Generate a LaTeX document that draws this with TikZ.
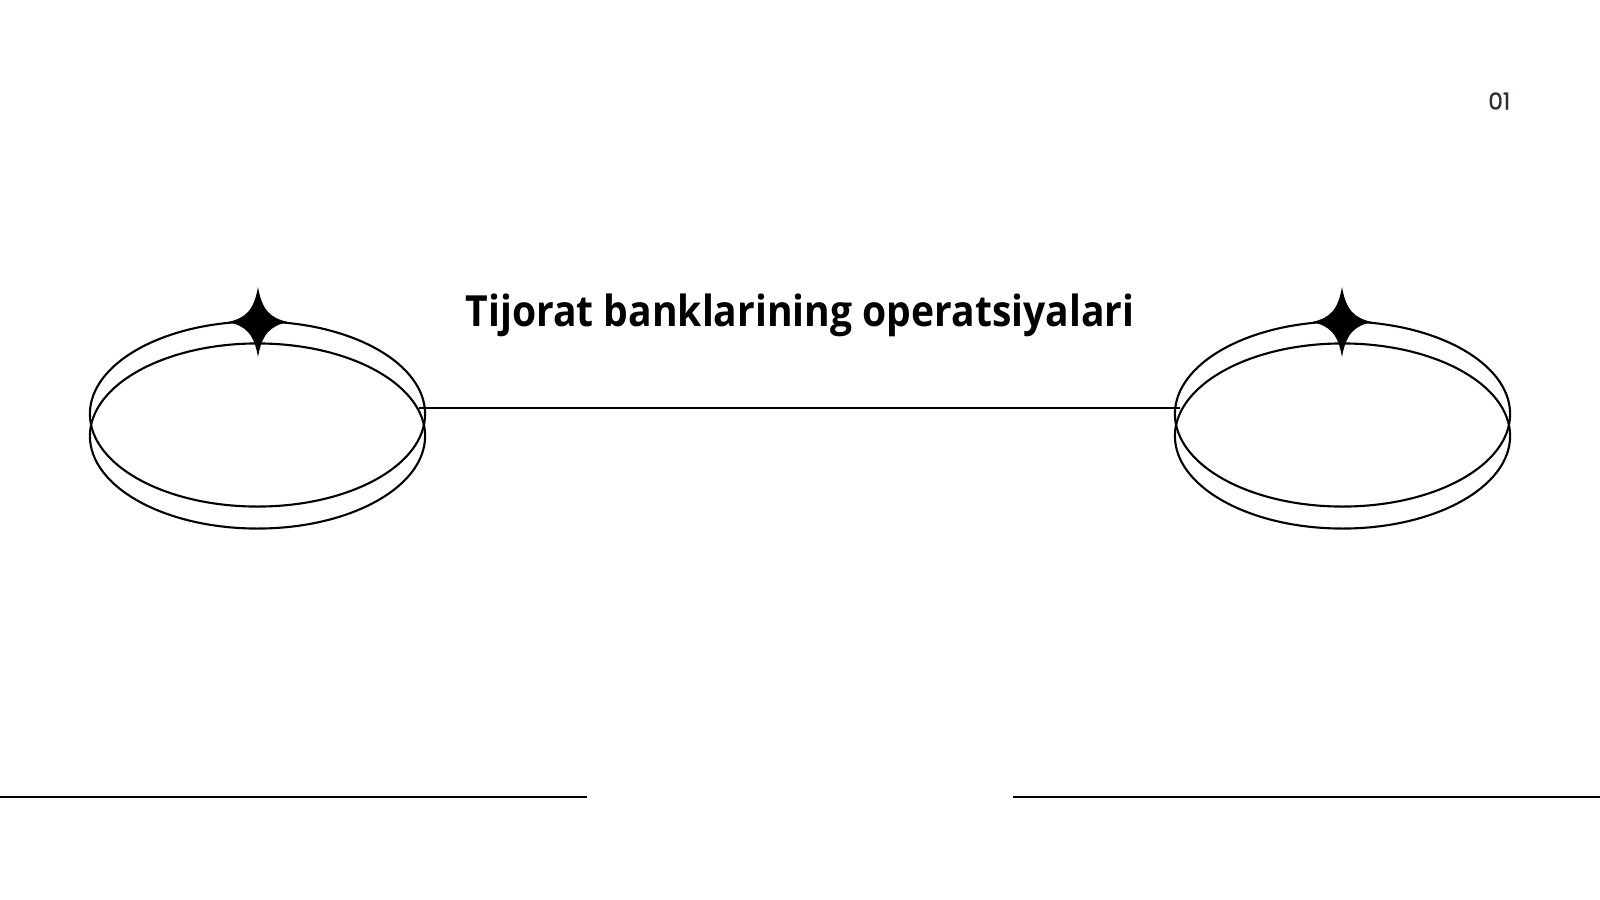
\documentclass[tikz,border=0pt]{standalone}
\usepackage{fontspec}
\setmainfont{Open Sans}
\newfontfamily\titlefont[FakeStretch=0.91]{Open Sans}
\newfontfamily\numfont[FakeBold=0.8]{Poppins}
\usetikzlibrary{shapes.geometric}
\definecolor{numgray}{HTML}{2B3030}
\tikzset{
  ring/.style={ellipse, draw=black, line width=0.6pt, inner sep=0pt,
    minimum width=3.35cm, minimum height=1.85cm},
  rule/.style={draw=black, line width=0.6pt},
  sparkle/.pic={\fill[black] (0,-35) .. controls (4,-12) and (12,-4) .. (30,0)
      .. controls (12,4) and (4,12) .. (0,35)
      .. controls (-4,12) and (-12,4) .. (-30,0)
      .. controls (-12,-4) and (-4,-12) .. cycle;}
}
\begin{document}
\begin{tikzpicture}[x=0.01cm,y=-0.01cm]
\fill[white] (0,0) rectangle (1600,900);
\useasboundingbox (0,0) rectangle (1600,900);
% left coin
\node[ring] (LA) at (257.5,414) {};
\node[ring] (LB) at (257.5,436) {};
\pic at (258,322) {sparkle};
% right coin
\node[ring] (RA) at (1342.5,414) {};
\node[ring] (RB) at (1342.5,436) {};
\pic at (1342,322) {sparkle};
% connector
\coordinate (c1) at (419,408.3);
\coordinate (c2) at (1180,408.3);
\draw[rule] (c1) -- (c2);
% bottom rules
\coordinate (b1) at (0,797.3);
\coordinate (b2) at (587,797.3);
\coordinate (b3) at (1013,797.3);
\coordinate (b4) at (1600,797.3);
\draw[rule] (b1) -- (b2);
\draw[rule] (b3) -- (b4);
% title
\node[anchor=base, inner sep=0pt, font=\titlefont\fontsize{12.2pt}{15pt}\selectfont\bfseries] (title) at (800,326) {Tijorat banklarining operatsiyalari};
% page number
\node[anchor=base east, inner sep=0pt, text=numgray, font=\numfont\fontsize{6.6pt}{8pt}\selectfont] (num) at (1511,109.5) {01};
\end{tikzpicture}
\end{document}
